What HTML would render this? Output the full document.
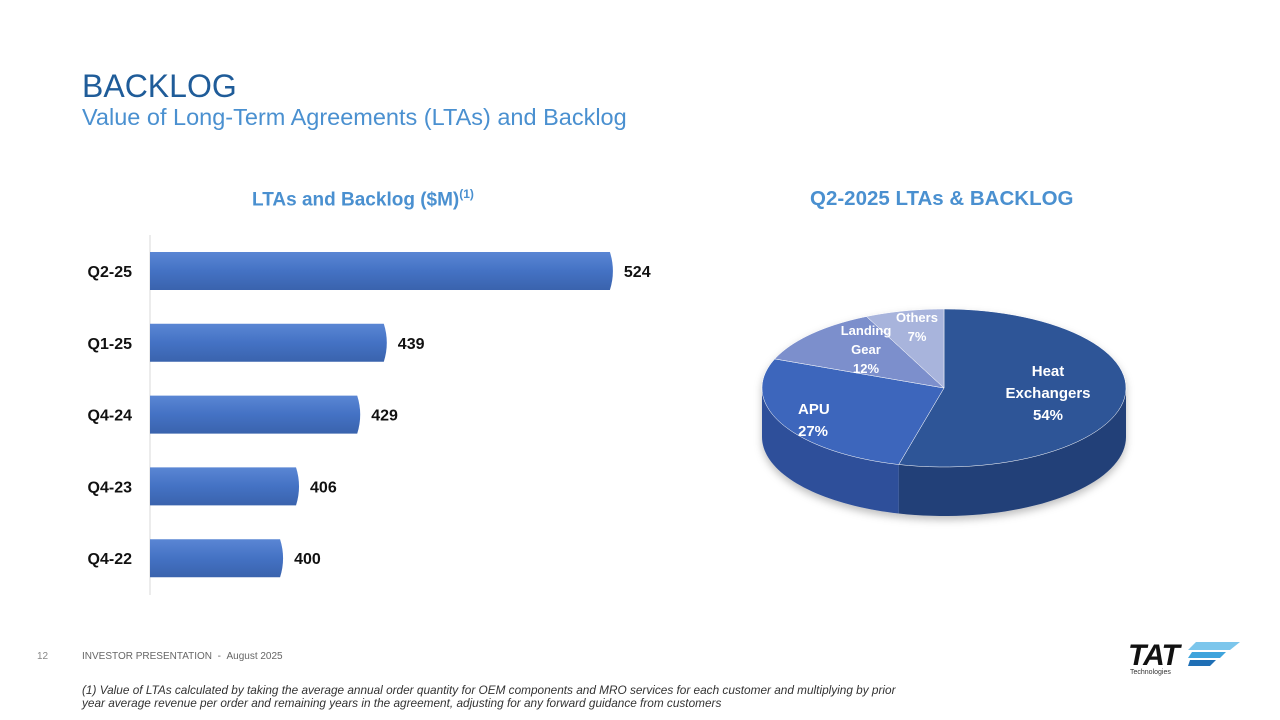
<!DOCTYPE html>
<html><head><meta charset="utf-8"><style>
body{margin:0;width:1280px;height:720px;background:#fff;font-family:"Liberation Sans",sans-serif;position:relative;overflow:hidden}
.abs{position:absolute}
</style></head><body>
<div class="abs" style="left:82px;top:68px;font-size:32px;color:#1F5C99">BACKLOG</div>
<div class="abs" style="left:82px;top:104px;font-size:23.5px;color:#4A90D0">Value of Long-Term Agreements (LTAs) and Backlog</div>
<div class="abs" style="left:252px;top:187px;font-size:19px;font-weight:bold;color:#4A90D0;white-space:nowrap">LTAs and Backlog ($M)<sup style="font-size:12px">(1)</sup></div>
<div class="abs" style="left:810px;top:187px;font-size:20.5px;font-weight:bold;color:#4A90D0;white-space:nowrap">Q2-2025 LTAs &amp; BACKLOG</div>
<svg class="abs" style="left:0;top:0" width="1280" height="720">
<defs>
<linearGradient id="bg" x1="0" y1="0" x2="0" y2="1"><stop offset="0" stop-color="#5a86d4"/><stop offset="0.5" stop-color="#4472C4"/><stop offset="1" stop-color="#3a63ad"/></linearGradient>
<filter id="sh"><feDropShadow dx="0" dy="4" stdDeviation="4" flood-opacity="0.25"/></filter>
</defs>
<line x1="150" y1="235" x2="150" y2="595" stroke="#d9d9d9"/>
<g id="bars"></g>
<g id="pie" filter="url(#sh)"></g>
<g id="pielabels"></g>
</svg>
<div class="abs" style="left:37px;top:651px;font-size:10px;color:#888">12</div>
<div class="abs" style="left:82px;top:651px;font-size:10px;color:#666">INVESTOR PRESENTATION &nbsp;- &nbsp;August 2025</div>
<div class="abs" style="left:82px;top:684px;font-size:11.8px;color:#333;font-style:italic;line-height:13px;white-space:nowrap">(1) Value of LTAs calculated by taking the average annual order quantity for OEM components and MRO services for each customer and multiplying by prior<br>year average revenue per order and remaining years in the agreement, adjusting for any forward guidance from customers</div>
<div class="abs" style="left:1128px;top:640px;width:115px;height:40px">
<div style="font-size:30px;font-weight:bold;font-style:italic;color:#111;line-height:32px;letter-spacing:-1px">TAT</div>
<svg class="abs" style="left:60px;top:2px" width="52" height="24"><polygon points="8,0 52,0 42,8 0,8" fill="#7CC6EC"/><polygon points="4,10 38,10 32,16 0,16" fill="#3FA4DC"/><polygon points="2,18 28,18 22,24 0,24" fill="#1F6FB5"/></svg>
<div class="abs" style="left:2px;top:29px;font-size:7px;color:#333">Technologies</div>
</div>
<script>
const categories=["Q2-25","Q1-25","Q4-24","Q4-23","Q4-22"];
const values=[524,439,429,406,400];
const pieLabels=[["Heat","Exchangers","54%"],["APU","27%"],["Landing","Gear","12%"],["Others","7%"]];
const pieValues=[54,27,12,7];
const NS="http://www.w3.org/2000/svg";
function mk(t,a,p){const e=document.createElementNS(NS,t);for(const k in a)e.setAttribute(k,a[k]);p.appendChild(e);return e;}
const x0=150,xMin=349.6,pxPer=2.66,yTop=271,step=71.8,bh=38;
const xS=v=>x0+(v-xMin)*pxPer;
const bars=document.getElementById('bars');
categories.forEach((c,i)=>{
 const yc=yTop+i*step,xe=xS(values[i]);
 const r=mk('path',{d:`M${x0},${yc-bh/2} L${xe-4},${yc-bh/2} Q${xe+2},${yc} ${xe-4},${yc+bh/2} L${x0},${yc+bh/2} Z`,fill:'url(#bg)'},bars);
 
 
 const l=mk('text',{x:132,y:yc+6,'text-anchor':'end','font-size':16,'font-weight':'bold',fill:'#111'},bars);l.textContent=c;
 
 
 const v=mk('text',{x:xe+10,y:yc+6,'font-size':16,'font-weight':'bold',fill:'#111'},bars);v.textContent=values[i];
 
 
});
const cx=944,cy=388,rx=182,ry=79,dep=49;
const tops=["#2F5597","#3D66BC","#7B8FCC","#A8B4DC"],sides=["#223f78","#2f509a","#5d72b0","#8693c4"];
const pie=document.getElementById('pie');
const P=(t,dy)=>[cx+rx*Math.cos(t),cy+ry*Math.sin(t)+(dy||0)];
const tot=pieValues.reduce((a,b)=>a+b,0);
let a=-Math.PI/2;const angs=[];
pieValues.forEach(v=>{const b=a+v/tot*2*Math.PI;angs.push([a,b]);a=b;});
angs.forEach(([s,e],i)=>{
 const s2=Math.max(s,0),e2=Math.min(e,Math.PI);
 if(e2<=s2)return;
 let d='';const N=40;
 for(let k=0;k<=N;k++){const t=s2+(e2-s2)*k/N;const p=P(t);d+=(k?'L':'M')+p[0]+','+p[1];}
 for(let k=N;k>=0;k--){const t=s2+(e2-s2)*k/N;const p=P(t,dep);d+='L'+p[0]+','+p[1];}
 const sd=mk('path',{d:d+'Z',fill:sides[i]},pie);
 
 
});
angs.forEach(([s,e],i)=>{
 let d=`M${cx},${cy}`;const N=60;
 for(let k=0;k<=N;k++){const t=s+(e-s)*k/N;const p=P(t);d+='L'+p[0]+','+p[1];}
 const sl=mk('path',{d:d+'Z',fill:tops[i],stroke:'#fff','stroke-width':0.5},pie);
 
 
});
// label anchor x, first baseline, line height, font size, anchor
const lpos=[[1048,376,22,15,'middle'],[798,414,22,15,'start'],[866,335,19,13,'middle'],[917,322,19,13,'middle']];
const pl=document.getElementById('pielabels');
pieLabels.forEach((ls,i)=>{
 const [lx,ly,lh,fs,an]=lpos[i];
 const t=mk('text',{x:lx,'text-anchor':an,'font-size':fs,'font-weight':'bold',fill:'#fff'},pl);
 ls.forEach((s,k)=>{const ts=mk('tspan',{x:lx,y:ly+k*lh},t);ts.textContent=s;});
 
 
});
</script>
</body></html>
